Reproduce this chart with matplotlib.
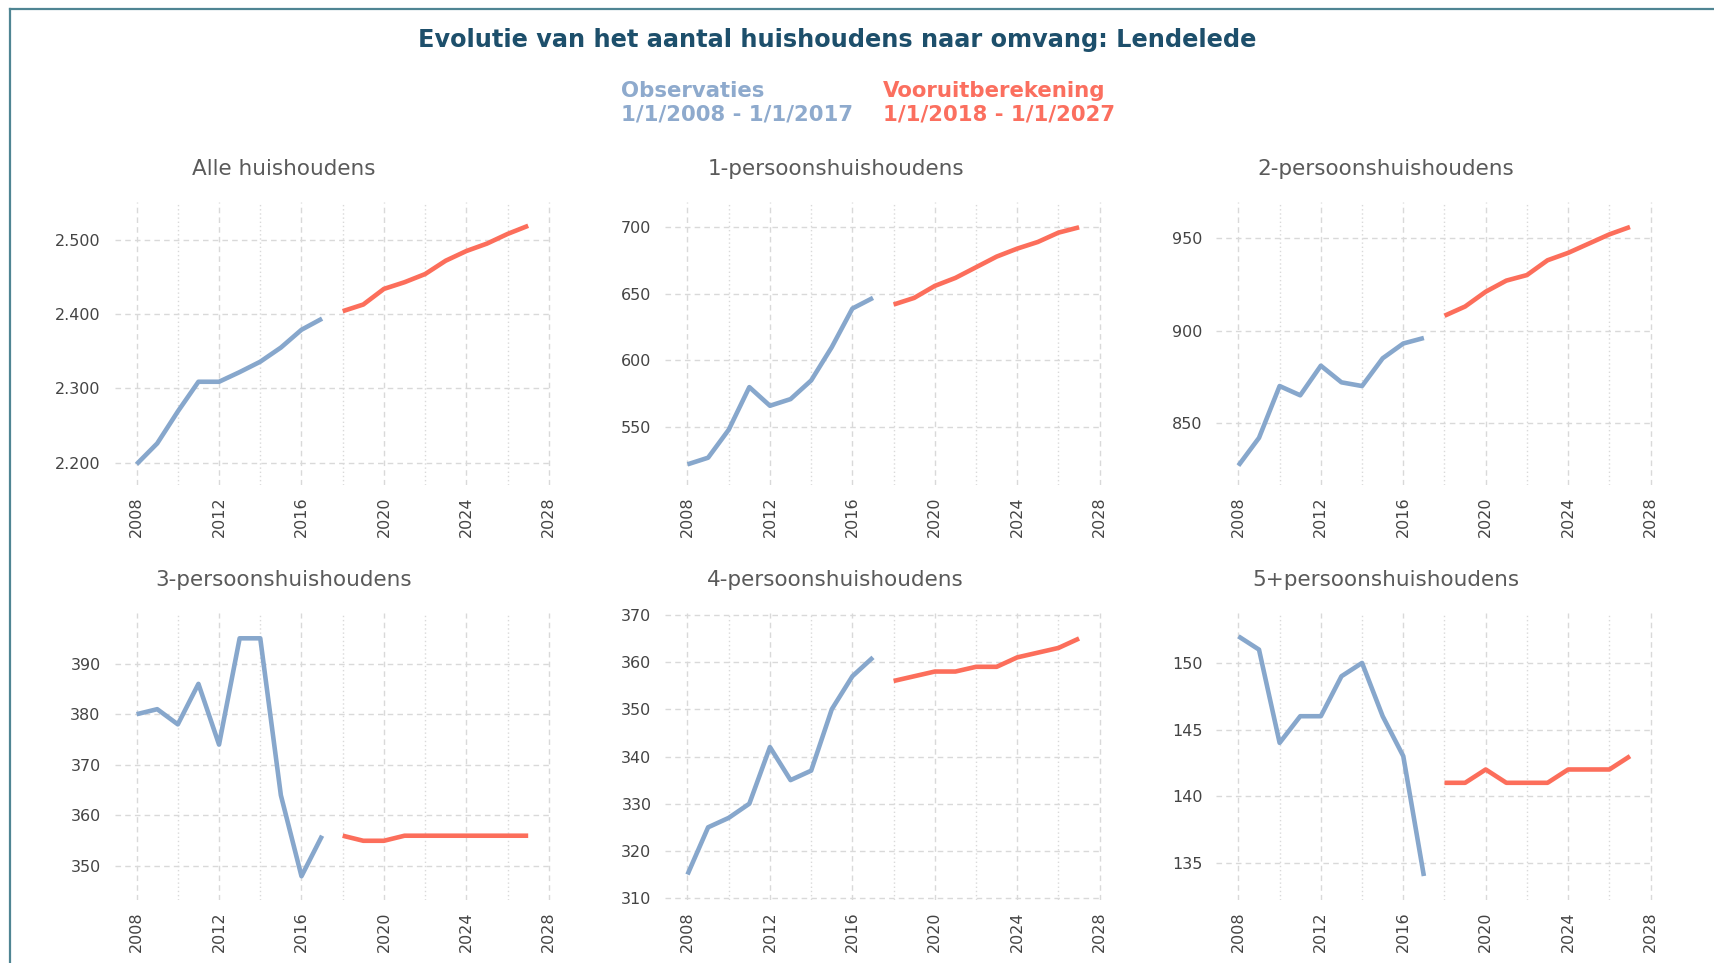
import matplotlib
matplotlib.use("Agg")
import matplotlib.pyplot as plt
from matplotlib.lines import Line2D
from matplotlib.ticker import FuncFormatter

# ---------------- data ----------------
obs_years = list(range(2008, 2018))
proj_years = list(range(2018, 2028))

panel_titles = ["Alle huishoudens", "1-persoonshuishoudens", "2-persoonshuishoudens",
                "3-persoonshuishoudens", "4-persoonshuishoudens", "5+persoonshuishoudens"]

alle_obs = [2198, 2226, 2269, 2309, 2309, 2322, 2336, 2355, 2379, 2394]
alle_proj = [2404, 2413, 2434, 2443, 2454, 2472, 2485, 2495, 2508, 2519]
een_obs = [522, 527, 548, 580, 566, 571, 585, 610, 639, 647]
een_proj = [642, 647, 656, 662, 670, 678, 684, 689, 696, 700]
twee_obs = [827, 842, 870, 865, 881, 872, 870, 885, 893, 896]
twee_proj = [908, 913, 921, 927, 930, 938, 942, 947, 952, 956]
drie_obs = [380, 381, 378, 386, 374, 395, 395, 364, 348, 356]
drie_proj = [356, 355, 355, 356, 356, 356, 356, 356, 356, 356]
vier_obs = [315, 325, 327, 330, 342, 335, 337, 350, 357, 361]
vier_proj = [356, 357, 358, 358, 359, 359, 361, 362, 363, 365]
vijf_obs = [152, 151, 144, 146, 146, 149, 150, 146, 143, 134]
vijf_proj = [141, 141, 142, 141, 141, 141, 142, 142, 142, 143]

yticks_list = [
    [2200, 2300, 2400, 2500],
    [550, 600, 650, 700],
    [850, 900, 950],
    [350, 360, 370, 380, 390],
    [310, 320, 330, 340, 350, 360, 370],
    [135, 140, 145, 150],
]
ylims = [(2170, 2551), (506.5, 719), (816.5, 969.5), (343.3, 400), (309.6, 370.4), (132.2, 153.75)]
xticks_major = [2008, 2012, 2016, 2020, 2024, 2028]
xticks_minor = [2010, 2014, 2018, 2022, 2026]

legend_obs = ["Observaties", "1/1/2008 - 1/1/2017"]
legend_proj = ["Vooruitberekening", "1/1/2018 - 1/1/2027"]
main_title = "Evolutie van het aantal huishoudens naar omvang: Lendelede"

series = [(alle_obs, alle_proj), (een_obs, een_proj), (twee_obs, twee_proj),
          (drie_obs, drie_proj), (vier_obs, vier_proj), (vijf_obs, vijf_proj)]

# ---------------- style ----------------
W, H, DPI = 1714, 963, 100
BLUE = "#87a7cc"
RED = "#fc6e5b"
LEG_BLUE = "#8eaacd"
LEG_RED = "#fb6f5f"
TITLE_C = "#1d4f6b"
SUB_C = "#5a5a5a"
TICK_C = "#444444"
GRID_C = "#d9d9d9"

plt.rcParams["font.family"] = ["DejaVu Sans"]

fig = plt.figure(figsize=(W / DPI, H / DPI), dpi=DPI)
fig.patch.set_facecolor("white")

def fx(px):
    return px / W

def fy(py):
    return 1 - py / H

# frame lines (left and top)
frame_c = "#4f8593"
fig.add_artist(Line2D([fx(10), fx(10)], [fy(9), fy(H + 5)], color=frame_c, lw=1.6, transform=fig.transFigure))
fig.add_artist(Line2D([fx(10), fx(W + 5)], [fy(9), fy(9)], color=frame_c, lw=1.6, transform=fig.transFigure))

# main title
fig.text(fx(837), fy(40), main_title, ha="center", va="center", fontsize=17.3,
         fontweight="bold", color=TITLE_C)

# legend texts
LEG_FS = 15.3
fig.text(fx(621), fy(91), legend_obs[0], ha="left", va="center", fontsize=LEG_FS, fontweight="bold", color=LEG_BLUE)
fig.text(fx(621), fy(115), legend_obs[1], ha="left", va="center", fontsize=LEG_FS, fontweight="bold", color=LEG_BLUE)
fig.text(fx(883), fy(91), legend_proj[0], ha="left", va="center", fontsize=LEG_FS, fontweight="bold", color=LEG_RED)
fig.text(fx(883), fy(115), legend_proj[1], ha="left", va="center", fontsize=LEG_FS, fontweight="bold", color=LEG_RED)

# layout (pixels)
x2008 = [136.6, 687.5, 1238.4]
px_per_year = 20.61
XMIN, XMAX = 2006.93, 2028.1
rows = [(202, 485), (613, 900)]
title_pos = [(284, 169), (836, 169), (1386, 169), (284, 580), (835, 580), (1386, 580)]

def thousands(v, pos):
    return f"{int(round(v)):,}".replace(",", ".")

for i in range(6):
    r, c = divmod(i, 3)
    l = x2008[c] - (2008 - XMIN) * px_per_year
    wpx = (XMAX - XMIN) * px_per_year
    t, b = rows[r]
    ax = fig.add_axes([fx(l), fy(b), wpx / W, (b - t) / H])
    obs, proj = series[i]
    ax.plot(obs_years, obs, color=BLUE, lw=3.3, solid_capstyle="butt", zorder=3)
    ax.plot(proj_years, proj, color=RED, lw=3.3, solid_capstyle="butt", zorder=3)
    ax.set_xlim(XMIN, XMAX)
    ax.set_ylim(*ylims[i])
    ax.set_xticks(xticks_major)
    ax.set_xticks(xticks_minor, minor=True)
    ax.set_yticks(yticks_list[i])
    ax.yaxis.set_major_formatter(FuncFormatter(thousands))
    ax.grid(True, which="major", axis="both", color=GRID_C, ls=(0, (4, 3)), lw=1.0)
    ax.grid(True, which="minor", axis="x", color=GRID_C, ls=(0, (1, 2)), lw=1.0)
    for s in ax.spines.values():
        s.set_visible(False)
    ax.tick_params(axis="both", which="both", length=0, colors=TICK_C, labelsize=11.5)
    ax.tick_params(axis="y", pad=10)
    ax.tick_params(axis="x", pad=8, labelrotation=90)
    ax.set_facecolor("white")
    tx, ty = title_pos[i]
    fig.text(fx(tx), fy(ty), panel_titles[i], ha="center", va="center", fontsize=15.5, color=SUB_C)

fig.savefig("out.png", dpi=DPI, facecolor="white")
